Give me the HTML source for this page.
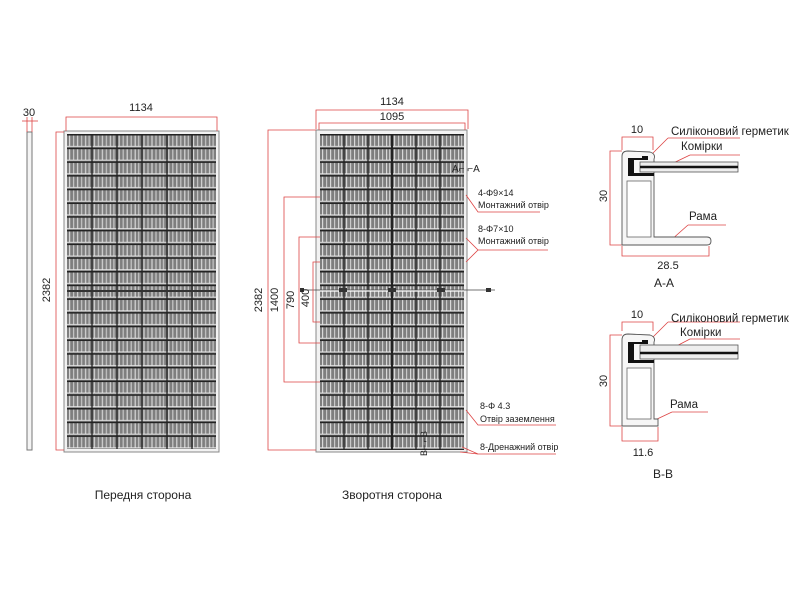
<!DOCTYPE html>
<html><head><meta charset="utf-8"><style>
html,body{margin:0;padding:0;background:#fff}
svg{display:block}
text{font-family:"Liberation Sans",sans-serif;fill:#222}
</style></head><body>
<svg width="800" height="600" viewBox="0 0 800 600" xmlns="http://www.w3.org/2000/svg">
<defs>
<pattern id="cellsF" x="67" y="134" width="24.8" height="13.7" patternUnits="userSpaceOnUse">
  <rect width="24.8" height="13.7" fill="#7e7e7e"/>
  <rect x="2" y="1.5" width="1.2" height="11" fill="#d8d8d8"/>
  <rect x="6" y="1.5" width="1.2" height="11" fill="#c8c8c8"/>
  <rect x="10" y="1.5" width="1.2" height="11" fill="#d8d8d8"/>
  <rect x="14" y="1.5" width="1.2" height="11" fill="#c8c8c8"/>
  <rect x="18" y="1.5" width="1.2" height="11" fill="#d8d8d8"/>
  <rect x="21.5" y="1.5" width="1.2" height="11" fill="#c8c8c8"/>
  <rect x="0" y="0" width="24.8" height="1.5" fill="#222"/>
  <rect x="0" y="12" width="24.8" height="0.9" fill="#eee"/>
</pattern>
<pattern id="cellsB" x="320" y="134" width="24" height="13.7" patternUnits="userSpaceOnUse">
  <rect width="24" height="13.7" fill="#7e7e7e"/>
  <rect x="2" y="1.5" width="1.2" height="11" fill="#d8d8d8"/>
  <rect x="6" y="1.5" width="1.2" height="11" fill="#c8c8c8"/>
  <rect x="10" y="1.5" width="1.2" height="11" fill="#d8d8d8"/>
  <rect x="14" y="1.5" width="1.2" height="11" fill="#c8c8c8"/>
  <rect x="18" y="1.5" width="1.2" height="11" fill="#d8d8d8"/>
  <rect x="21" y="1.5" width="1.2" height="11" fill="#c8c8c8"/>
  <rect x="0" y="0" width="24" height="1.5" fill="#222"/>
  <rect x="0" y="12" width="24" height="0.9" fill="#eee"/>
</pattern>
</defs>

<!-- side view -->
<rect x="27" y="132" width="5" height="318" fill="#f4f4f4" stroke="#777" stroke-width="1"/>
<g stroke="#d44" stroke-width="0.8" fill="none">
<line x1="22" y1="121" x2="38" y2="121"/><line x1="27" y1="117" x2="27" y2="132"/><line x1="32" y1="117" x2="32" y2="132"/>
</g>
<text x="29" y="116" font-size="11" text-anchor="middle">30</text>

<!-- front -->
<rect x="64" y="131" width="155" height="321" fill="#f2f2f2" stroke="#888"/>
<rect x="67" y="134" width="149" height="315" fill="url(#cellsF)"/>
<g stroke="#222" stroke-width="1.3"><line x1="92" y1="134" x2="92" y2="449"/><line x1="117" y1="134" x2="117" y2="449"/><line x1="142" y1="134" x2="142" y2="449"/><line x1="167" y1="134" x2="167" y2="449"/><line x1="192" y1="134" x2="192" y2="449"/></g>
<line x1="67" y1="291" x2="216" y2="291" stroke="#333" stroke-width="2"/>
<g stroke="#d44" stroke-width="0.8" fill="none">
<polyline points="66,131 66,117 217,117 217,131"/>
<polyline points="64,132 56,132 56,450 64,450"/>
</g>
<text x="141" y="111" font-size="11" text-anchor="middle">1134</text>
<text x="0" y="0" font-size="11" text-anchor="middle" transform="translate(50,290) rotate(-90)">2382</text>

<!-- back -->
<rect x="316" y="130" width="151" height="322" fill="#f2f2f2" stroke="#888"/>
<rect x="320" y="134" width="144" height="316" fill="url(#cellsB)"/>
<g stroke="#222" stroke-width="1.3"><line x1="344" y1="134" x2="344" y2="450"/><line x1="368" y1="134" x2="368" y2="450"/><line x1="392" y1="134" x2="392" y2="450" stroke-width="2"/><line x1="416" y1="134" x2="416" y2="450"/><line x1="440" y1="134" x2="440" y2="450"/></g>
<line x1="300" y1="290" x2="495" y2="290" stroke="#444" stroke-width="0.8"/>
<line x1="320" y1="291" x2="464" y2="291" stroke="#fff" stroke-width="1.2"/>
<g fill="#333"><rect x="339" y="288" width="8" height="4"/><rect x="388" y="288" width="8" height="4"/><rect x="437" y="288" width="8" height="4"/><rect x="300" y="288" width="4" height="4"/><rect x="486" y="288" width="5" height="4"/></g>
<g stroke="#d44" stroke-width="0.8" fill="none">
<polyline points="316,129 316,110 468,110 468,129"/>
<polyline points="319,130 319,123 465,123 465,130"/>
<polyline points="316,130 268,130 268,450 316,450"/>
<polyline points="320,197 284,197 284,382 320,382"/>
<polyline points="320,237 299,237 299,343 320,343"/>
<polyline points="320,262 313,262 313,322 320,322"/>
<polyline points="466,195 478,212 540,212"/>
<polyline points="466,238 478,250 466,262"/><line x1="478" y1="250" x2="548" y2="250"/>
<polyline points="466,410 478,425 556,425"/>
<polyline points="462,447 478,454 556,454"/>
<polyline points="460,452 478,454"/>
</g>
<text x="392" y="105" font-size="11" text-anchor="middle">1134</text>
<text x="392" y="120" font-size="11" text-anchor="middle">1095</text>
<text font-size="11" text-anchor="middle" transform="translate(262,300) rotate(-90)">2382</text>
<text font-size="11" text-anchor="middle" transform="translate(278,300) rotate(-90)">1400</text>
<text font-size="11" text-anchor="middle" transform="translate(294,300) rotate(-90)">790</text>
<text font-size="11" text-anchor="middle" transform="translate(309,298) rotate(-90)">400</text>
<text x="452" y="172" font-size="10">A⌐  ⌐A</text>
<text x="478" y="196" font-size="9">4-Φ9×14</text>
<text x="478" y="208" font-size="9">Монтажний отвір</text>
<text x="478" y="232" font-size="9">8-Φ7×10</text>
<text x="478" y="244" font-size="9">Монтажний отвір</text>
<text x="480" y="409" font-size="9">8-Φ 4.3</text>
<text x="480" y="422" font-size="9">Отвір заземлення</text>
<text x="480" y="450" font-size="9">8-Дренажний отвір</text>
<text font-size="9" transform="translate(427,456) rotate(-90)">B⌐  ⌐B</text>

<text x="143" y="499" font-size="12" text-anchor="middle">Передня сторона</text>
<text x="392" y="499" font-size="12" text-anchor="middle">Зворотня сторона</text>

<!-- A-A -->
<g stroke="#d44" stroke-width="0.8" fill="none">
<polyline points="622,150 622,137 653,137 653,150"/>
<polyline points="622,151 610,151 610,245 622,245"/>
<polyline points="622,246 622,256 709,256 709,246"/>
<line x1="648" y1="158" x2="668" y2="138"/><line x1="668" y1="138" x2="740" y2="138"/>
<line x1="665" y1="167" x2="690" y2="155"/><line x1="690" y1="155" x2="740" y2="155"/>
<line x1="670" y1="241" x2="688" y2="225"/><line x1="688" y1="225" x2="726" y2="225"/>
</g>
<path d="M622,245 L622,156 Q622,151 628,151 L650,152 Q656,154 654,159 L654,237 L707,237 Q711,237 711,241 Q711,245 707,245 Z" fill="#f6f6f6" stroke="#555" stroke-width="0.9"/>
<rect x="627" y="181" width="24" height="56" fill="#fff" stroke="#666" stroke-width="0.8"/>
<rect x="640" y="162" width="98" height="10" fill="#eee" stroke="#555" stroke-width="0.8"/>
<line x1="640" y1="167" x2="738" y2="167" stroke="#111" stroke-width="2.5"/>
<path d="M628,158 L642,158 L642,156 L648,156 L648,160 L634,160 L634,173 L654,173 L654,176 L628,176 Z" fill="#111"/>
<text x="637" y="133" font-size="11" text-anchor="middle">10</text>
<text font-size="11" text-anchor="middle" transform="translate(607,196) rotate(-90)">30</text>
<text x="668" y="269" font-size="11" text-anchor="middle">28.5</text>
<text x="664" y="287" font-size="12" text-anchor="middle">A-A</text>
<text x="671" y="135" font-size="11.5">Силіконовий герметик</text>
<text x="681" y="150" font-size="11.5">Комірки</text>
<text x="689" y="220" font-size="11.5">Рама</text>

<!-- B-B -->
<g stroke="#d44" stroke-width="0.8" fill="none">
<polyline points="622,331 622,322 653,322 653,331"/>
<polyline points="622,335 610,335 610,426 622,426"/>
<polyline points="622,427 622,441 658,441 658,427"/>
<line x1="648" y1="342" x2="668" y2="322"/><line x1="668" y1="322" x2="740" y2="322"/>
<line x1="665" y1="352" x2="690" y2="339"/><line x1="690" y1="339" x2="740" y2="339"/>
<line x1="655" y1="420" x2="672" y2="412"/><line x1="672" y1="412" x2="708" y2="412"/>
</g>
<path d="M622,426 L622,340 Q622,334 628,334 L650,335 Q656,337 654,342 L654,419 L658,419 L658,426 Z" fill="#f6f6f6" stroke="#555" stroke-width="0.9"/>
<rect x="627" y="368" width="24" height="51" fill="#fff" stroke="#666" stroke-width="0.8"/>
<rect x="640" y="345" width="98" height="14" fill="#eee" stroke="#555" stroke-width="0.8"/>
<line x1="640" y1="353" x2="738" y2="353" stroke="#111" stroke-width="2.5"/>
<path d="M628,342 L642,342 L642,340 L648,340 L648,344 L634,344 L634,360 L654,360 L654,363 L628,363 Z" fill="#111"/>
<text x="637" y="318" font-size="11" text-anchor="middle">10</text>
<text font-size="11" text-anchor="middle" transform="translate(607,381) rotate(-90)">30</text>
<text x="643" y="456" font-size="11" text-anchor="middle">11.6</text>
<text x="663" y="478" font-size="12" text-anchor="middle">B-B</text>
<text x="671" y="322" font-size="11.5">Силіконовий герметик</text>
<text x="680" y="336" font-size="11.5">Комірки</text>
<text x="670" y="408" font-size="11.5">Рама</text>
</svg>
</body></html>
